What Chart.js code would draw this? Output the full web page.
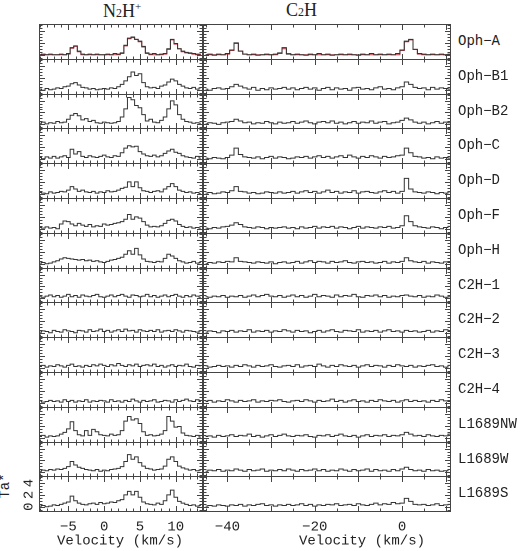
<!DOCTYPE html>
<html><head><meta charset="utf-8">
<script src="https://cdn.jsdelivr.net/npm/chart.js@4"></script>
<style>
body{margin:0;background:#fff;width:526px;height:551px;position:relative;overflow:hidden}
canvas{position:absolute}
.t{position:absolute;font-family:'Liberation Mono',monospace;font-size:14px;color:#222;white-space:nowrap}
.h{position:absolute;font-family:'Liberation Serif',serif;font-size:18px;color:#222;white-space:nowrap}
</style></head><body>
<div class="h" style="left:103px;top:0px">N<span style="font-size:12px">2</span>H<sup style="font-size:11px">+</sup></div>
<div class="h" style="left:286px;top:0px">C<span style="font-size:12px">2</span>H</div>
<div class="t" style="left:-8px;top:478px;transform:rotate(-90deg)">Ta*</div>
<script>
const rowNames=["Oph−A","Oph−B1","Oph−B2","Oph−C","Oph−D","Oph−F","Oph−H","C2H−1","C2H−2","C2H−3","C2H−4","L1689NW","L1689W","L1689S"];
const leftStart=-9, leftStep=0.5;   // N2H+ channel velocities
const rightStart=-45, rightStep=1;  // C2H channel velocities
const leftTicks=[-5,0,5,10];
const rightTicks=[-40,-20,0];
const yTicks=[0,2,4];

const n2hOphA=[0,0.1,0,0.1,0,0,0.1,0,0.2,1.2,1.5,0.6,0.1,0,0.1,0,0.1,0,0,0.1,0,0.2,0.1,0.3,1.6,2.8,3.0,2.6,2.3,1.4,0.3,0.1,0.2,0,0.1,0.2,1.0,2.6,1.9,1.0,0.6,0.4,0.3,0.2,0.1,0.1];
const n2hOphAFit=[0,0,0,0,0,0,0,0,0.1,1.1,1.4,0.5,0,0,0,0,0,0,0,0,0,0,0,0.2,1.5,2.7,2.9,2.6,2.2,1.3,0.2,0,0,0,0,0.1,0.9,2.5,1.8,1.0,0.5,0.3,0.2,0.1,0,0];
const n2hOphB1=[0.1,-0.1,0.2,0,0.1,0.3,0.2,0.5,0.6,1.0,1.2,0.8,0.4,0.3,0.1,0.2,0,0.1,0.2,0.1,0.3,0.2,0.5,0.9,1.5,2.2,3.0,2.4,2.7,1.2,0.5,0.3,0.4,0.2,0.6,0.8,1.3,1.8,1.5,0.9,0.6,0.3,0.2,0.4,0.1,0.3];
const n2hOphB2=[0.1,0.3,0,0.2,0.1,0.4,0.2,0.3,0.8,1.5,1.8,1.4,0.7,0.9,0.4,0.6,0.2,0.1,0.3,0.2,0.1,0.2,0.4,1.2,2.6,4.6,4.2,3.2,2.8,1.6,0.5,0.8,0.3,0.2,0.6,1.2,2.6,4.0,3.3,1.6,0.8,0.4,0.3,0.1,0.2,0.1];
const n2hOphC=[0.2,0,0.3,0.1,0.4,0.1,0.3,0.5,0.2,1.6,0.8,1.2,0.4,0.2,0.5,0.3,0.2,0.4,0.6,0.3,0.2,0.5,0.4,1.0,1.8,2.2,2.0,2.1,1.2,0.8,0.5,0.4,0.6,0.3,0.5,0.9,1.3,1.6,1.1,0.9,0.5,0.3,0.2,0.1,0.4,0.1];
const n2hOphD=[0.2,0.1,0,0.3,0.1,0.2,0.4,0.3,0.6,1.2,0.8,0.4,0.6,0.3,0.2,0.4,0.1,0.3,0.2,0.5,0.3,0.4,0.6,0.9,1.1,2.0,1.2,2.0,1.0,0.5,0.4,0.2,0.4,0.5,0.3,0.8,1.2,1.7,1.2,0.6,0.4,0.2,0.3,0.1,0.2,0];
const n2hOphF=[0.2,0.1,0.3,0.1,0.2,0,0.8,1.3,1.2,0.8,0.5,0.9,0.6,0.4,0.7,0.3,0.5,0.4,0.8,0.6,0.7,0.9,1.0,1.2,1.6,2.4,1.6,2.0,1.8,1.2,0.6,0.3,0.4,0.3,0.5,0.9,1.4,1.6,1.3,0.7,0.4,0.2,0.3,0.1,0.2,0.1];
const n2hOphH=[0.1,0.2,0,0.1,0.3,0.5,0.8,1.0,0.9,0.8,0.7,0.6,0.7,0.5,0.6,0.4,0.5,0.3,0.2,0.4,0.6,0.7,0.9,1.1,1.6,2.2,1.6,2.6,1.5,0.8,0.4,0.3,0.2,0.4,0.3,0.9,1.6,1.3,0.9,0.5,0.3,0.1,0.2,0.4,0.1,0.2];
const n2hC2H1=[0.2,0.1,0.3,0.5,0.2,0.4,0.1,0.3,0.6,0.2,0.4,0.1,0.5,0.3,0.2,0.4,0.6,0.2,0.1,0.3,0.5,0.2,0.4,0.6,0.3,0.1,0.5,0.4,0.2,0.3,0.6,0.2,0.4,0.1,0.3,0.5,0.2,0.4,0.6,0.3,0.1,0.4,0.2,0.5,0.3,0.1];
const n2hC2H2=[0.1,0.3,0.2,0,0.4,0.2,0.1,0.5,0.3,0.2,0,0.4,0.3,0.1,0.5,0.2,0.3,0.6,0.2,0.4,0.1,0.3,0.5,0.2,0.6,0.3,0.4,0.1,0.5,0.3,0.2,0.4,0.2,0.5,0.1,0.3,0.4,0.2,0.5,0.3,0.1,0.4,0.3,0.2,0.1,0.3];
const n2hC2H3=[0.2,0.4,0.1,0.3,0.2,0.5,0.3,0.1,0.4,0.6,0.2,0.3,0.1,0.4,0.2,0.5,0.3,0.6,0.4,0.2,0.5,0.3,0.7,0.4,0.2,0.5,0.3,0.6,0.2,0.4,0.5,0.3,0.6,0.2,0.4,0.1,0.3,0.5,0.2,0.4,0.3,0.6,0.2,0.1,0.4,0.3];
const n2hC2H4=[0.3,0.1,0.2,0.4,0.2,0.3,0.1,0.5,0.2,0.4,0.1,0.3,0.2,0.5,0.1,0.3,0.2,0.4,0.3,0.1,0.5,0.2,0.3,0.1,0.4,0.2,0.6,0.3,0.1,0.4,0.2,0.3,0.5,0.1,0.2,0.4,0.3,0.1,0.5,0.2,0.4,0.6,0.3,0.2,0.5,0.2];
const n2hL1689NW=[0.2,0.4,0.1,0.3,0.2,0.3,0.6,0.9,1.5,2.7,1.2,0.5,0.3,1.2,0.4,1.4,1.0,0.5,0.4,0.3,0.6,0.4,0.5,1.2,2.8,3.6,3.0,3.2,2.4,1.0,0.4,0.5,0.3,0.4,0.6,1.2,3.6,2.8,1.8,1.9,0.8,0.4,0.3,0.2,0.4,0.1];
const n2hL1689W=[0.1,0.3,0.2,0.4,0.3,0.5,0.4,0.6,0.9,1.8,1.2,0.8,0.6,0.4,0.3,0.2,0.4,0.1,0.3,0.2,0.4,0.5,0.6,0.9,1.8,3.0,2.2,2.6,1.6,1.0,0.6,0.5,0.3,0.4,0.5,1.0,2.2,2.6,1.8,1.0,0.7,0.5,0.3,0.4,0.2,0.3];
const n2hL1689S=[0.1,0.2,0,0.1,0.3,0.2,0.4,0.6,0.8,1.8,1.0,0.6,0.4,0.3,0.5,0.6,0.4,0.7,0.5,0.6,0.8,0.7,1.0,1.2,2.0,2.6,2.0,2.6,1.6,0.8,0.5,0.4,0.3,0.6,0.4,1.0,2.0,2.8,1.6,0.9,0.6,0.4,0.2,0.3,0.1,0.2];

const c2hOphA=[0,0.1,-0.1,0.1,0,0.2,0.8,2.0,0.6,0.1,0,0.1,-0.1,0,0.1,0,0.1,0.3,1.2,0.1,0,0.1,0,-0.1,0.1,0,0.2,0,0.1,-0.1,0,0.1,0,0.1,0,-0.1,0.1,0,0.2,0,0.1,0,0.1,0,0.2,0.8,2.3,2.6,0.9,0.2,0.1,0,0.1,0,0.1,0,0.1];
const c2hOphAFit=[0,0,0,0,0,0.1,0.7,1.9,0.6,0.1,0,0,0,0,0,0,0,0.2,1.0,0.2,0,0,0,0,0,0,0,0,0,0,0,0,0,0,0,0,0,0,0,0,0,0,0,0,0,0.7,2.2,2.5,0.9,0.1,0,0,0,0,0,0,0];
const c2hOphB1=[0.1,-0.1,0.2,0.3,0.1,0.2,0.5,0.9,0.6,0.3,0.1,0.4,-0.1,0.2,0,0.3,0.1,0.2,0.4,0.1,0.3,0,0.2,0.4,0.1,0.3,-0.1,0.2,0.4,0,0.3,0.1,0.2,-0.1,0.3,0.4,0.1,0.2,0,0.3,0.5,0.1,0.2,0,0.3,0.5,1.3,0.9,0.4,0.2,0.3,0,0.4,0.1,0.3,0.2,0.1];
const c2hOphB2=[0,0.2,0.1,-0.1,0.2,0.3,0.4,0.8,0.5,0.2,0.3,0,0.2,0.1,0.4,0.2,0,0.3,0.1,0.2,0.4,0.1,0.3,0.5,0.2,0,0.3,0.4,0.2,0.5,0.1,0.3,0,0.2,0.4,0.1,0.3,0.2,0.5,0.1,0.3,0.4,0,0.2,0.3,0.6,1.0,0.7,0.3,0.1,0.3,0,0.2,0.4,0.1,0.3,0.2];
const c2hOphC=[0.1,0,0.2,0.1,0,0.2,0.6,1.8,0.7,0.3,0.2,0.1,0.3,0,0.2,0.4,0.1,0.3,0.2,0,0.1,0.3,0.2,0.4,0.1,0.3,0.5,0.2,0.4,0.1,0.3,0.5,0.2,0.6,0.3,0.1,0.4,0.2,0.5,0.3,0.1,0.4,0.2,0.3,0.5,0.6,1.8,1.0,0.4,0.3,0.1,0.2,0,0.3,0.1,0.2,0.1];
const c2hOphD=[0.1,0.2,0,0.1,0.3,0.2,0.5,1.2,0.4,0.3,0.1,0.2,0,0.1,0.3,0.2,0.1,0.3,0.1,0.2,0.4,0.1,0.3,0.5,0.2,0.4,0.1,0.3,0.6,0.2,0.4,0.1,0.3,0.2,0.5,0.1,0.3,0.4,0.2,0.1,0.3,0.5,0.2,0.4,0.1,0.4,2.6,0.8,0.3,0.2,0.1,0.3,0.2,0,0.2,0.1,0.3];
const c2hOphF=[0.1,0,0.2,0.1,0.3,0.4,0.6,1.0,0.7,0.3,0.2,0.1,0.3,0.2,0,0.2,0.1,0.2,0.3,0.1,0.2,0,0.3,0.1,0.2,0.4,0.1,0.3,0.2,0.4,0.1,0.3,0.2,0,0.2,0.4,0.1,0.3,0.2,0.1,0.3,0.2,0.4,0.1,0.2,0.5,2.2,1.2,0.5,0.3,0.2,0.1,0.3,0.2,0,0.2,0.4];
const c2hOphH=[0,0.2,0.1,0.3,0.2,0.4,0.3,1.0,0.4,0.3,0.2,0.1,0.3,0.2,0.1,0.3,0,0.2,0.3,0.1,0.2,0.4,0.1,0.3,0.5,0.2,0.4,0.3,0.1,0.4,0.2,0.3,0.5,0.2,0.1,0.3,0.4,0.2,0.3,0.1,0.2,0.4,0.1,0.3,0.2,0.4,1.0,0.5,0.3,0.2,0.4,0.1,0.3,0.2,0.1,0.3,0.2];
const c2hC2H1=[0.2,0.1,0.3,0.2,0.4,0.1,0.3,0.2,0.4,0.1,0.3,0.5,0.2,0.4,0.6,0.3,0.2,0.4,0.1,0.3,0.5,0.2,0.4,0.1,0.3,0.6,0.2,0.4,0.3,0.1,0.5,0.2,0.4,0.3,0.6,0.2,0.1,0.4,0.3,0.5,0.2,0.4,0.1,0.3,0.2,0.4,0.5,0.3,0.2,0.4,0.1,0.3,0.2,0.5,0.3,0.1,0.2];
const c2hC2H2=[0.1,0.3,0.2,0,0.3,0.2,0.4,0.1,0.3,0.2,0.5,0.1,0.3,0.2,0.4,0.1,0.3,0.2,0.5,0.3,0.1,0.4,0.2,0.3,0,0.2,0.4,0.1,0.3,0.5,0.2,0.1,0.4,0.3,0.2,0.5,0.1,0.3,0.2,0.4,0.1,0.3,0.5,0.2,0.3,0.1,0.4,0.2,0.3,0.1,0.2,0.4,0.1,0.3,0.2,0.5,0.2];
const c2hC2H3=[0.3,0.1,0.2,0.4,0.2,0.3,0.1,0.4,0.2,0.5,0.3,0.1,0.4,0.2,0.3,0.5,0.2,0.1,0.3,0.4,0.2,0.5,0.1,0.3,0.4,0.2,0.6,0.3,0.1,0.4,0.2,0.5,0.3,0.2,0.4,0.1,0.3,0.5,0.2,0.4,0.3,0.1,0.4,0.2,0.5,0.3,0.2,0.4,0.1,0.3,0.2,0.4,0.5,0.2,0.3,0.1,0.4];
const c2hC2H4=[0.2,0.4,0.1,0.3,0.2,0.5,0.3,0.1,0.4,0.2,0.3,0.5,0.1,0.3,0.2,0.4,0.3,0.5,0.2,0.1,0.3,0.4,0.2,0.5,0.3,0.1,0.4,0.2,0.3,0.6,0.2,0.4,0.1,0.3,0.5,0.2,0.3,0.1,0.4,0.2,0.5,0.3,0.2,0.4,0.1,0.3,0.5,0.2,0.4,0.2,0.3,0.1,0.4,0.2,0.5,0.3,0.2];
const c2hL1689NW=[0.2,0.3,0.1,0.4,0.2,0.3,0.5,0.2,0.4,0.3,0.6,0.2,0.4,0.1,0.3,0.5,0.2,0.4,0.6,0.3,0.2,0.4,0.3,0.5,0.2,0.1,0.4,0.3,0.5,0.2,0.4,0.6,0.3,0.2,0.4,0.1,0.3,0.5,0.2,0.4,0.3,0.5,0.2,0.4,0.3,0.5,0.9,0.6,0.3,0.4,0.2,0.5,0.3,0.2,0.4,0.3,0.6];
const c2hL1689W=[0.1,0.3,0.2,0.4,0.1,0.3,0.2,0.5,0.3,0.1,0.4,0.2,0.3,0.5,0.1,0.3,0.2,0.4,0.2,0.5,0.3,0.1,0.4,0.2,0.3,0.5,0.2,0.4,0.1,0.3,0.2,0.5,0.3,0.1,0.4,0.2,0.3,0.5,0.1,0.4,0.2,0.3,0.1,0.4,0.2,0.5,0.8,0.4,0.2,0.3,0.1,0.4,0.2,0.3,0.1,0.2,0.4];
const c2hL1689S=[0.1,0.2,0.1,0.3,0.2,0.1,0.3,0.2,0.4,0.1,0.3,0.2,0.4,0.5,0.2,0.3,0.1,0.3,0.2,0.4,0.2,0.3,0.5,0.2,0.4,0.1,0.3,0.2,0.4,0.3,0.5,0.2,0.3,0.4,0.2,0.5,0.3,0.2,0.4,0.6,0.3,0.5,0.4,0.7,0.5,0.6,1.4,0.9,0.4,0.3,0.4,0.2,0.3,0.5,0.2,0.3,0.4];

const leftRows=[n2hOphA,n2hOphB1,n2hOphB2,n2hOphC,n2hOphD,n2hOphF,n2hOphH,n2hC2H1,n2hC2H2,n2hC2H3,n2hC2H4,n2hL1689NW,n2hL1689W,n2hL1689S];
const rightRows=[c2hOphA,c2hOphB1,c2hOphB2,c2hOphC,c2hOphD,c2hOphF,c2hOphH,c2hC2H1,c2hC2H2,c2hC2H3,c2hC2H4,c2hL1689NW,c2hL1689W,c2hL1689S];

const TOP=24, RH=34.8, LX=39, LW=164, RX=203, RW=248, BOT=40;
const YMIN=-0.9, YMAX=5.2;

function pts(arr,start,step){return arr.map((v,i)=>({x:start+i*step,y:v}));}

const frame={id:'frame',afterDraw(ch,args,o){
  const c=ch.ctx,a=ch.chartArea,xs=ch.scales.x,ys=ch.scales.y;
  c.save();c.strokeStyle='#444';c.lineWidth=1;
  c.strokeRect(a.left+0.5,a.top+0.5,a.right-a.left-1,a.bottom-a.top-1);
  c.beginPath();
  for(let v=o.xmin0;v<=o.xmax;v+=o.minor){
    const px=Math.round(xs.getPixelForValue(v))+0.5; if(px<a.left+1||px>a.right-1)continue;
    const L=(Math.abs(v%o.major)<1e-6)?6:3.5;
    c.moveTo(px,a.top);c.lineTo(px,a.top+L);c.moveTo(px,a.bottom);c.lineTo(px,a.bottom-L);
  }
  for(let v=-0.5;v<=5;v+=0.5){
    const py=Math.round(ys.getPixelForValue(v))+0.5; if(py<a.top+1||py>a.bottom-1)continue;
    const L=(Math.abs(v%2)<1e-6)?6:3.5;
    c.moveTo(a.left,py);c.lineTo(a.left+L,py);c.moveTo(a.right,py);c.lineTo(a.right-L,py);
  }
  c.stroke();
  c.fillStyle='#222';c.font='14px "Liberation Mono", monospace';
  if(o.bottom){
    c.textAlign='center';c.textBaseline='top';
    o.labels.forEach(v=>{c.fillText(String(v).replace('-','−'),xs.getPixelForValue(v),a.bottom+8);});
    c.fillText('Velocity (km/s)',o.titleX,a.bottom+22);
  }
  if(o.yl){
    yTicks.forEach(v=>{const py=ys.getPixelForValue(v);c.save();c.translate(a.left-10,py);c.rotate(-Math.PI/2);c.textAlign='center';c.textBaseline='middle';c.fillText(String(v),0,0);c.restore();});
  }
  c.restore();
}};

function make(x,y,w,h,datasets,xmin,xmax,opt){
  const cv=document.createElement('canvas');
  cv.style.left=x+'px';cv.style.top=y+'px';cv.style.width=w+'px';cv.style.height=h+'px';
  cv.width=w;cv.height=h;document.body.appendChild(cv);
  new Chart(cv,{type:'line',data:{datasets},plugins:[frame],options:{
    responsive:false,animation:false,devicePixelRatio:2,
    layout:{padding:{left:opt.padL||0,bottom:opt.bottom?BOT:0}},
    plugins:{legend:{display:false},tooltip:{enabled:false},frame:opt},
    elements:{point:{radius:0}},
    scales:{x:{type:'linear',min:xmin,max:xmax,display:false},y:{min:YMIN,max:YMAX,display:false}}
  }});
}
const line=(d,col)=>({data:d,borderColor:col,borderWidth:1,stepped:'middle',fill:false});

for(let r=0;r<14;r++){
  const top=Math.round(TOP+r*RH), h=Math.round(TOP+(r+1)*RH)-top+1;
  const bottom=r===13;
  const ld=[line(pts(leftRows[r],leftStart,leftStep),'#333')];
  const rd=[line(pts(rightRows[r],rightStart,rightStep),'#333')];
  if(r===0){ld.push(line(pts(n2hOphAFit,leftStart,leftStep),'#c0303a'));rd.push(line(pts(c2hOphAFit,rightStart,rightStep),'#c0303a'));}
  const padL=bottom?20:0;
  make(LX-padL,top,LW+padL,h+(bottom?BOT:0),ld,-9.1,13.8,{xmin0:-9,xmax:13.8,minor:1,major:5,bottom,labels:leftTicks,titleX:81+padL,yl:bottom,padL});
  make(RX,top,RW,h+(bottom?BOT:0),rd,-45.6,11.2,{xmin0:-45,xmax:11.2,minor:5,major:10,bottom,labels:rightTicks,titleX:159});
  const d=document.createElement('div');d.className='t';d.textContent=rowNames[r];
  d.style.left='458px';d.style.top=(top+h/2-9)+'px';document.body.appendChild(d);
}
</script></body></html>
